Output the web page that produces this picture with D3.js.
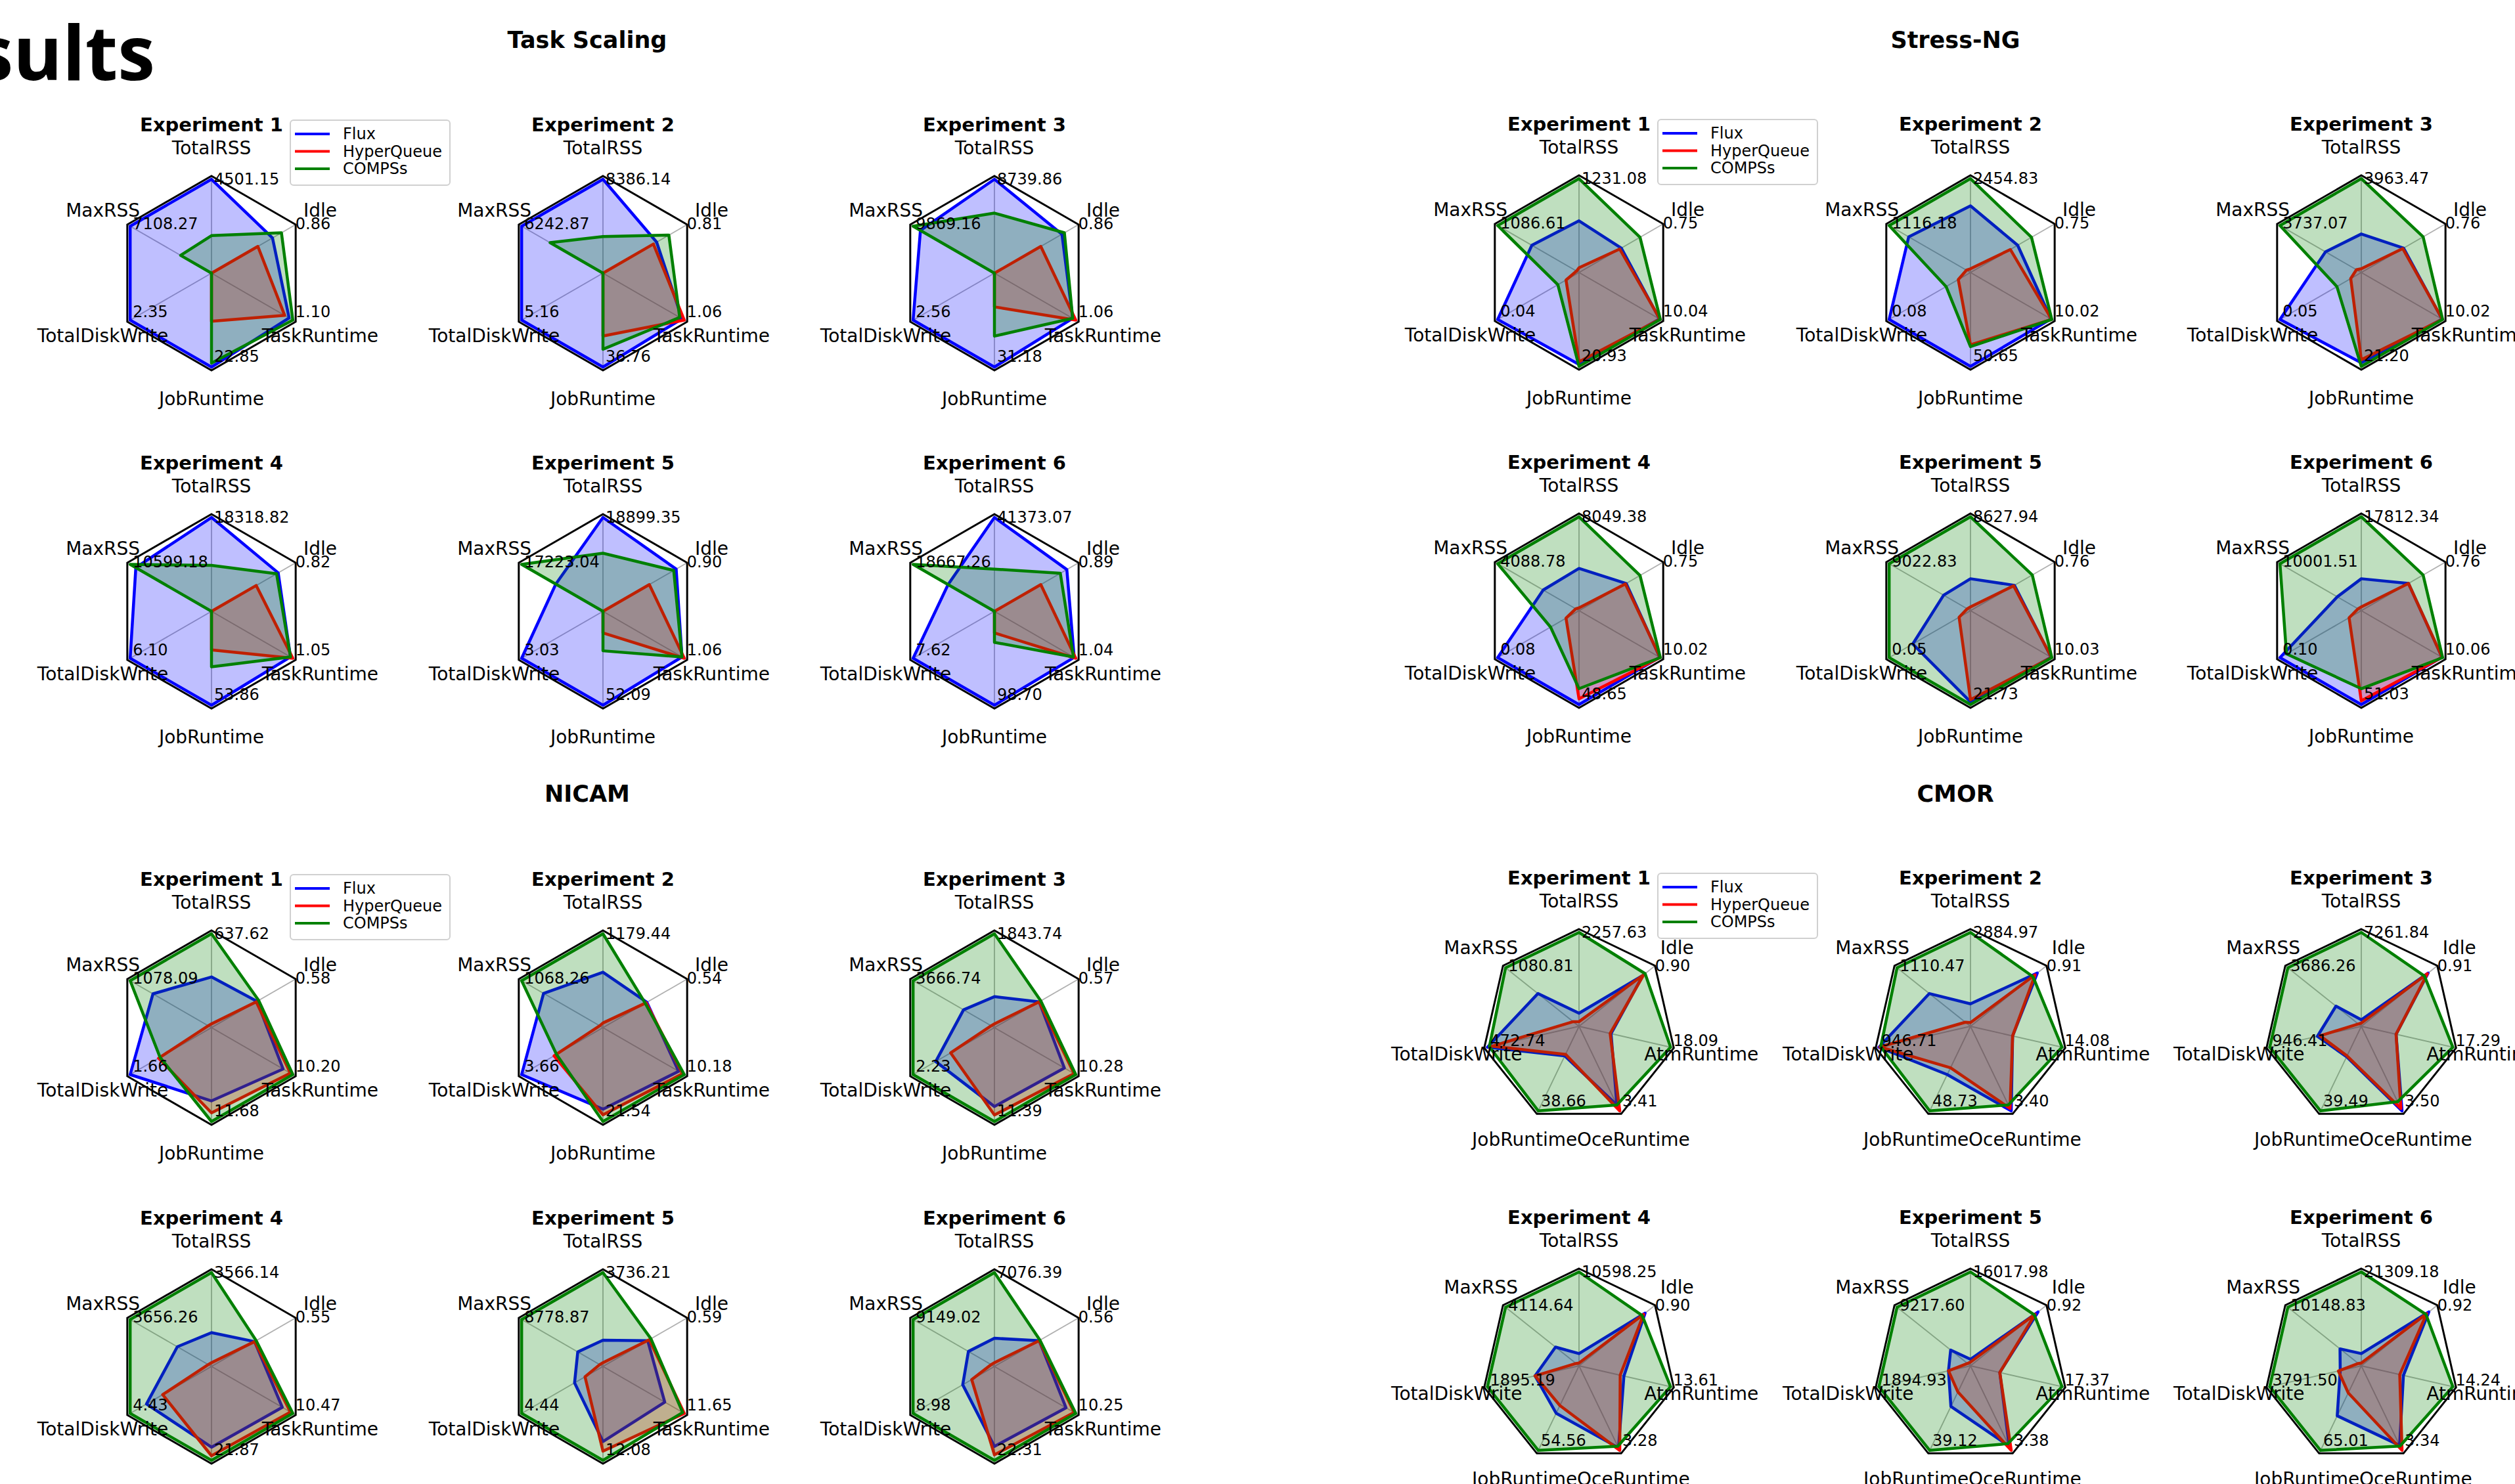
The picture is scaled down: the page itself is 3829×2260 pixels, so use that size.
<!DOCTYPE html>
<html>
<head>
<meta charset="utf-8">
<script src="https://cdn.jsdelivr.net/npm/d3@7"></script>
<style>
  body { margin: 0; background: #fff; }
  svg { display: block; font-family: "DejaVu Sans", sans-serif; }
</style>
</head>
<body>
<div class="dashboard"></div>
<script>
const hexAxes = ['TotalRSS', 'Idle', 'TaskRuntime', 'JobRuntime', 'TotalDiskWrite', 'MaxRSS'];
const cmorAxes = ['TotalRSS', 'Idle', 'AtmRuntime', 'OceRuntime', 'JobRuntime', 'TotalDiskWrite', 'MaxRSS'];
const experiments = ['Experiment 1', 'Experiment 2', 'Experiment 3', 'Experiment 4', 'Experiment 5', 'Experiment 6'];
const seriesNames = ['Flux', 'HyperQueue', 'COMPSs'];

// Task Scaling
const taskFlux = [
  [4501.15, 0.75, 1.05, 22.85, 2.35, 7108.27],
  [8386.14, 0.66, 1.03, 36.76, 5.16, 6242.87],
  [8739.86, 0.83, 1.02, 31.18, 2.56, 8980],
  [18318.82, 0.82, 1.02, 53.86, 6.10, 9860],
  [18899.35, 0.90, 1.03, 52.09, 3.03, 9990],
  [41373.07, 0.89, 1.02, 98.70, 7.62, 10640]
];
const taskHyperQueue = [
  [0, 0.57, 0.99, 11.7, 0, 0],
  [0, 0.62, 1.06, 24.6, 0, 0],
  [0, 0.57, 1.06, 11.2, 0, 0],
  [0, 0.55, 1.05, 22.1, 0, 0],
  [0, 0.57, 1.06, 12.0, 0, 0],
  [0, 0.57, 1.04, 22.7, 0, 0]
];
const taskCOMPSs = [
  [1800, 0.86, 1.10, 21.9, 0, 2700],
  [3270, 0.81, 1.00, 29.8, 0, 4060],
  [5590, 0.86, 1.02, 20.9, 0, 9869.16],
  [8980, 0.80, 1.02, 31.8, 0, 10599.18],
  [11700, 0.87, 1.03, 21.9, 0, 17223.04],
  [18600, 0.81, 1.01, 32.6, 0, 18667.26]
];

// Stress-NG
const stressFlux = [
  [677, 0.52, 9.94, 20.5, 0.04, 630],
  [1743, 0.58, 9.92, 50.65, 0.08, 848],
  [1625, 0.52, 9.95, 20.4, 0.05, 1644],
  [3622, 0.58, 9.95, 48.65, 0.08, 1800],
  [2933, 0.54, 9.95, 21.1, 0.0355, 2980],
  [6056, 0.58, 9.98, 51.03, 0.10, 2950]
];
const stressHyperQueue = [
  [62, 0.50, 10.0, 19.9, 0.0064, 33],
  [98, 0.49, 10.0, 39.0, 0.012, 56],
  [159, 0.51, 10.0, 19.7, 0.0065, 224],
  [241, 0.57, 10.0, 45.7, 0.0128, 164],
  [345, 0.53, 10.0, 20.6, 0.007, 361],
  [712, 0.58, 10.0, 49.0, 0.015, 400]
];
const stressCOMPSs = [
  [1231.08, 0.75, 10.04, 20.93, 0.0104, 1086.61],
  [2454.83, 0.75, 10.02, 40.0, 0.024, 1116.18],
  [3963.47, 0.76, 10.02, 21.20, 0.015, 3737.07],
  [8049.38, 0.75, 10.02, 40.4, 0.028, 4088.78],
  [8627.94, 0.76, 10.03, 21.73, 0.05, 9022.83],
  [17812.34, 0.76, 10.06, 42.4, 0.092, 10001.51]
];

// NICAM
const nicamFlux = [
  [344, 0.56, 8.98, 9.11, 1.66, 776],
  [696, 0.54, 9.47, 18.7, 3.66, 780],
  [608, 0.55, 8.84, 9.57, 1.61, 1393],
  [1284, 0.53, 9.11, 18.8, 3.54, 1536],
  [1046, 0.55, 8.85, 9.66, 1.55, 2720],
  [2123, 0.55, 9.02, 19.0, 3.5, 2928]
];
const nicamHyperQueue = [
  [26, 0.55, 9.89, 10.6, 1.08, 43],
  [59, 0.53, 9.98, 20.0, 2.2, 43],
  [74, 0.55, 10.07, 10.6, 1.2, 147],
  [143, 0.53, 10.16, 20.8, 2.66, 146],
  [149, 0.57, 11.65, 10.9, 0.98, 351],
  [283, 0.55, 10.05, 21.0, 2.51, 366]
];
const nicamCOMPSs = [
  [637.62, 0.58, 10.20, 11.68, 1.05, 1078.09],
  [1179.44, 0.52, 10.18, 21.54, 2.09, 1068.26],
  [1843.74, 0.57, 10.28, 11.39, 2.23, 3666.74],
  [3566.14, 0.55, 10.47, 21.87, 4.43, 3656.26],
  [3736.21, 0.59, 11.42, 12.08, 4.44, 8778.87],
  [7076.39, 0.56, 10.25, 22.31, 8.98, 9149.02]
];

// CMOR
const cmorFlux = [
  [316, 0.87, 6.33, 3.17, 13.5, 472.74, 605],
  [692, 0.91, 6.48, 3.40, 27.8, 946.71, 622],
  [508, 0.91, 6.57, 3.50, 14.2, 454, 1272],
  [1378, 0.90, 6.67, 3.18, 30.6, 910, 1317],
  [1121, 0.92, 5.56, 3.21, 18.8, 455, 2489],
  [2770, 0.92, 6.55, 3.14, 38.4, 872, 2943]
];
const cmorHyperQueue = [
  [113, 0.88, 6.15, 3.41, 12.8, 449, 86],
  [115, 0.88, 6.48, 3.30, 23.9, 937, 78],
  [254, 0.90, 6.57, 3.40, 13.8, 426, 147],
  [318, 0.88, 6.12, 3.28, 25.6, 910, 165],
  [641, 0.88, 5.56, 3.38, 12.1, 455, 369],
  [639, 0.89, 5.98, 3.34, 20.8, 948, 406]
];
const cmorCOMPSs = [
  [2257.63, 0.90, 18.09, 3.17, 38.66, 463, 1080.81],
  [2884.97, 0.85, 14.08, 3.16, 48.73, 928, 1110.47],
  [7261.84, 0.86, 17.29, 3.12, 39.49, 946.41, 3686.26],
  [10598.25, 0.86, 13.61, 3.12, 54.56, 1895.19, 4114.64],
  [16017.98, 0.87, 17.37, 3.11, 39.12, 1894.93, 9217.60],
  [21309.18, 0.88, 14.24, 3.17, 65.01, 3791.50, 10148.83]
];

const svgWidth = 3829,
  svgHeight = 2260,
  frameR = 148,
  dataR = frameR / 1.035,
  labelR = 191;

const colors = { Flux: '#0000ff', HyperQueue: '#ff0000', COMPSs: '#008000' };

const groups = [
  { title: 'Task Scaling', axes: hexAxes, series: [taskFlux, taskHyperQueue, taskCOMPSs],
    titleX: 894, titleY: 73, cols: [322, 918, 1514], rows: [416, 931] },
  { title: 'Stress-NG', axes: hexAxes, series: [stressFlux, stressHyperQueue, stressCOMPSs],
    titleX: 2977, titleY: 73, cols: [2404, 3000, 3595], rows: [415, 930] },
  { title: 'NICAM', axes: hexAxes, series: [nicamFlux, nicamHyperQueue, nicamCOMPSs],
    titleX: 894, titleY: 1221, cols: [322, 918, 1514], rows: [1565, 2081] },
  { title: 'CMOR', axes: cmorAxes, series: [cmorFlux, cmorHyperQueue, cmorCOMPSs],
    titleX: 2977, titleY: 1221, cols: [2404, 3000, 3595], rows: [1563, 2080] }
];

const svg = d3.select('.dashboard')
  .append('svg')
  .attr('width', svgWidth)
  .attr('height', svgHeight);

svg.append('rect')
  .attr('width', svgWidth)
  .attr('height', svgHeight)
  .attr('fill', '#fff');

// big page title, partly cut off at the left edge
svg.append('text')
  .attr('x', 236)
  .attr('y', 122)
  .attr('text-anchor', 'end')
  .style('font-family', '"Open Sans", sans-serif')
  .style('font-size', '114px')
  .style('font-weight', 'bold')
  .text('Results');

const fmt = d3.format('.2f');

groups.forEach(g => {
  svg.append('text')
    .attr('x', g.titleX)
    .attr('y', g.titleY)
    .attr('text-anchor', 'middle')
    .style('font-size', '35px')
    .style('font-weight', 'bold')
    .text(g.title);

  const n = g.axes.length;
  const angle = i => i * 2 * Math.PI / n;

  experiments.forEach((exp, e) => {
    const cx = g.cols[e % 3],
      cy = g.rows[Math.floor(e / 3)];

    const chart = svg.append('g')
      .attr('transform', `translate(${cx}, ${cy})`);

    // one radial scale per axis; Idle is a share so it stays on 0..1
    const scales = g.axes.map((ax, i) => {
      const maxV = d3.max(g.series, s => s[e][i]);
      return {
        max: maxV,
        scale: d3.scaleLinear()
          .domain([0, ax === 'Idle' ? 1 : maxV])
          .range([0, dataR])
      };
    });

    const frame = d3.lineRadial()
      .angle((d, i) => angle(i))
      .radius(frameR)
      .curve(d3.curveLinearClosed);

    // spokes
    chart.selectAll('.spoke')
      .data(g.axes)
      .join('line')
      .attr('x2', (d, i) => frameR * Math.sin(angle(i)))
      .attr('y2', (d, i) => -frameR * Math.cos(angle(i)))
      .attr('stroke', '#b0b0b0')
      .attr('stroke-width', 1.8);

    chart.append('path')
      .attr('d', frame(g.axes))
      .attr('fill', 'none')
      .attr('stroke', '#000')
      .attr('stroke-width', 3);

    const radar = d3.lineRadial()
      .angle((d, i) => angle(i))
      .radius((d, i) => scales[i].scale(d))
      .curve(d3.curveLinearClosed);

    g.series.forEach((s, k) => {
      const c = colors[seriesNames[k]];
      chart.append('path')
        .attr('d', radar(s[e]))
        .attr('fill', c)
        .attr('fill-opacity', 0.25)
        .attr('stroke', c)
        .attr('stroke-width', 4.5)
        .attr('stroke-linejoin', 'round');
    });

    // max value at each vertex
    chart.selectAll('.maxlab')
      .data(scales)
      .join('text')
      .attr('x', (d, i) => dataR * Math.sin(angle(i)) + 4)
      .attr('y', (d, i) => -dataR * Math.cos(angle(i)) - 8 * (1 - Math.cos(angle(i))))
      .attr('dominant-baseline', 'central')
      .style('font-size', '24px')
      .text(d => fmt(d.max));

    // axis names
    chart.selectAll('.axlab')
      .data(g.axes)
      .join('text')
      .attr('x', (d, i) => labelR * Math.sin(angle(i)))
      .attr('y', (d, i) => -labelR * Math.cos(angle(i)))
      .attr('text-anchor', 'middle')
      .attr('dominant-baseline', 'central')
      .style('font-size', '28px')
      .text(d => d);

    chart.append('text')
      .attr('y', -216)
      .attr('text-anchor', 'middle')
      .style('font-size', '29px')
      .style('font-weight', 'bold')
      .text(exp);

    if (e === 0) {
      const legend = chart.append('g')
        .attr('transform', 'translate(120, -233)');
      legend.append('rect')
        .attr('width', 243)
        .attr('height', 99)
        .attr('rx', 5)
        .attr('fill', '#fff')
        .attr('fill-opacity', 0.8)
        .attr('stroke', '#d0d0d0')
        .attr('stroke-width', 2);
      seriesNames.forEach((name, k) => {
        const y = 21 + k * 26.5;
        legend.append('line')
          .attr('x1', 7).attr('x2', 60)
          .attr('y1', y).attr('y2', y)
          .attr('stroke', colors[name])
          .attr('stroke-width', 4);
        legend.append('text')
          .attr('x', 80)
          .attr('y', y)
          .attr('dominant-baseline', 'central')
          .style('font-size', '24px')
          .text(name);
      });
    }
  });
});
</script>
</body>
</html>
